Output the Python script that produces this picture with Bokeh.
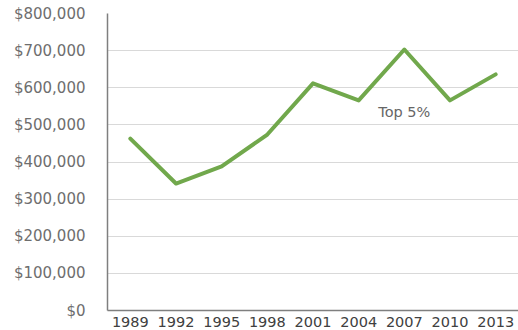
from bokeh.plotting import figure
from bokeh.models import FactorRange, Range1d, NumeralTickFormatter, SingleIntervalTicker
from bokeh.core.properties import value
from bokeh.embed import file_html
from bokeh.resources import INLINE

years = ["1989", "1992", "1995", "1998", "2001", "2004", "2007", "2010", "2013"]
top5 = [463000, 342000, 388000, 474000, 612000, 566000, 703000, 566000, 636000]
series_label = "Top 5%"
label_year = "2007"
label_value = 534000

p = figure(width=518, height=330, output_backend="svg", toolbar_location=None,
           x_range=FactorRange(*years, range_padding=0), y_range=Range1d(0, 800000),
           min_border_left=107, min_border_right=0, min_border_top=13, min_border_bottom=20)

p.line(years, top5, line_color="#71a84c", line_width=4, line_join="round", line_cap="round")
p.text(x=[label_year], y=[label_value], text=[series_label], text_align="center",
       text_baseline="middle", text_font=value("DejaVu Sans"), text_font_size="14.5px",
       text_color="#666666")

p.outline_line_color = None
p.xgrid.grid_line_color = None
p.ygrid.grid_line_color = "#d9d9d9"
p.ygrid.grid_line_width = 1

p.yaxis.ticker = SingleIntervalTicker(interval=100000)
p.yaxis.formatter = NumeralTickFormatter(format="$0,0")
for ax in (p.xaxis[0], p.yaxis[0]):
    ax.axis_line_color = "#7f7f7f"
    ax.axis_line_width = 1.5
    ax.major_tick_line_color = None
    ax.minor_tick_line_color = None
    ax.major_tick_out = 0
    ax.major_tick_in = 0
    ax.major_label_text_font = "DejaVu Sans"
    ax.major_label_text_font_size = "15px"
    ax.major_label_text_color = "#6e6e6e"
p.yaxis.major_label_standoff = 18
p.xaxis.major_label_standoff = 6
p.xaxis.major_label_text_color = "#404040"
p.xaxis.major_label_text_font_size = "14.5px"

open("out.html", "w").write(file_html(p, INLINE))
